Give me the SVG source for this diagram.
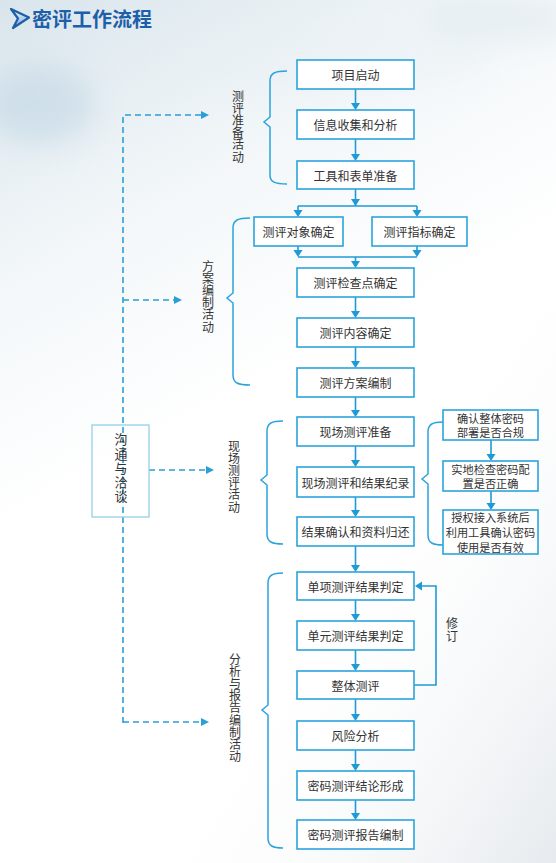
<svg xmlns="http://www.w3.org/2000/svg" width="556" height="863" viewBox="0 0 556 863">
<defs>
  <linearGradient id="bg" x1="0" y1="0" x2="0.35" y2="1">
    <stop offset="0" stop-color="#d9e5ec"/>
    <stop offset="0.3" stop-color="#f3f7f9"/>
    <stop offset="0.55" stop-color="#ffffff"/>
    <stop offset="1" stop-color="#ffffff"/>
  </linearGradient>
  <linearGradient id="br" x1="0" y1="0" x2="1" y2="1">
    <stop offset="0.6" stop-color="#ffffff" stop-opacity="0"/>
    <stop offset="1" stop-color="#e6eaee"/>
  </linearGradient>
  <filter id="blur" x="-50%" y="-50%" width="200%" height="200%"><feGaussianBlur stdDeviation="14"/></filter>
  <linearGradient id="ico" x1="0" y1="0" x2="0" y2="1">
    <stop offset="0" stop-color="#e8f2fa"/>
    <stop offset="1" stop-color="#7fb1dc"/>
  </linearGradient>
  <style>
    .box{fill:#ffffff;stroke:#2ba3dc;stroke-width:1.6}
    .t{font-family:"Noto Sans CJK SC","Noto Sans",sans-serif;font-size:12px;fill:#333333;text-anchor:middle;dominant-baseline:central}
    .s{font-size:11.2px}
    .v{font-family:"Noto Sans CJK SC","Noto Sans",sans-serif;font-size:12px;fill:#333333;writing-mode:vertical-rl;text-anchor:start;letter-spacing:0.2px}
    .ln{stroke:#1e9ad6;stroke-width:1.6;fill:none}
    .hd{fill:#1e9ad6}
    .brace{stroke:#2ba3dc;stroke-width:1.5;fill:none}
    .dash{stroke:#2a9fd6;stroke-width:1.6;fill:none;stroke-dasharray:6 4}
  </style>
</defs>
<rect x="0" y="0" width="556" height="863" fill="url(#bg)"/>
<rect x="0" y="0" width="556" height="863" fill="url(#br)"/>
<g filter="url(#blur)" opacity="0.5">
  <ellipse cx="40" cy="105" rx="55" ry="40" fill="#bcd3e2"/>
  <ellipse cx="330" cy="60" rx="160" ry="30" fill="#e9f0f4"/>
  <ellipse cx="500" cy="20" rx="80" ry="25" fill="#dde7ed"/>
</g>

<g id="title">
  <path d="M11,9 L29,17.5 L13,28 L18,18.5 Z" fill="url(#ico)" stroke="#1d5fa9" stroke-width="2.2" stroke-linejoin="round"/>
  <text x="32" y="18" font-family="'Noto Sans CJK SC','Noto Sans',sans-serif" font-size="20" font-weight="bold" fill="#1d5fa9" dominant-baseline="central">密评工作流程</text>
</g>

<g id="connectors">
  <path class="ln" d="M355.5,89 V104 M355.5,139 V155 M355.5,189 V206 M298,206 H417 M298,206 V211 M417,206 V211 M298,246 V251 M417,246 V251 M298,257 H417 M355.5,257 V262 M355.5,297 V312 M355.5,347 V362 M355.5,397 V411 M355.5,446 V461 M355.5,497 V511 M355.5,546 V566 M355.5,600 V615 M355.5,650 V665 M355.5,699 V715 M355.5,750 V765 M355.5,800 V814"/>
  <g class="hd">
    <polygon points="351,103 360,103 355.5,110"/>
    <polygon points="351,154 360,154 355.5,161"/>
    <polygon points="351,199 360,199 355.5,206"/>
    <polygon points="293.5,210 302.5,210 298,217"/>
    <polygon points="412.5,210 421.5,210 417,217"/>
    <polygon points="293.5,250 302.5,250 298,257"/>
    <polygon points="412.5,250 421.5,250 417,257"/>
    <polygon points="351,261 360,261 355.5,268"/>
    <polygon points="351,311 360,311 355.5,318"/>
    <polygon points="351,361 360,361 355.5,368"/>
    <polygon points="351,410 360,410 355.5,417"/>
    <polygon points="351,460 360,460 355.5,467"/>
    <polygon points="351,510 360,510 355.5,517"/>
    <polygon points="351,565 360,565 355.5,572"/>
    <polygon points="351,614 360,614 355.5,621"/>
    <polygon points="351,664 360,664 355.5,671"/>
    <polygon points="351,714 360,714 355.5,721"/>
    <polygon points="351,764 360,764 355.5,771"/>
    <polygon points="351,813 360,813 355.5,820"/>
    <polygon points="486.5,454 495.5,454 491,461"/>
    <polygon points="486.5,503 495.5,503 491,510"/>
    <polygon points="415,586 422,581.5 422,590.5"/>
  </g>
  <path class="ln" d="M491,440 V455 M491,491 V504"/>
  <path class="ln" d="M414,685 H436 V586 H421"/>
  <path class="dash" d="M123,723 V115 H202 M123,300 H175 M149,470 H207 M123,722 H202"/>
  <g fill="#2a9fd6">
    <polygon points="209,115 201,111 201,119"/>
    <polygon points="182,300 174,296 174,304"/>
    <polygon points="214,470 206,466 206,474"/>
    <polygon points="209,722 201,718 201,726"/>
  </g>
</g>

<g id="braces">
  <path class="brace" d="M287,71 C275,71 270,73 270,81 L270,117 L264,122 L270,127 L270,175 C270,182 275,184 287,184"/>
  <path class="brace" d="M250,218 C238,218 233,220 233,228 L233,293 L227,298 L233,303 L233,375 C233,383 238,385 250,385"/>
  <path class="brace" d="M283,421 C272,421 267,423 267,431 L267,475 L261,480 L267,485 L267,534 C267,542 272,544 283,544"/>
  <path class="brace" d="M443,422 C433,422 428,424 428,432 L428,474 L422,479 L428,484 L428,535 C428,543 433,545 443,545"/>
  <path class="brace" d="M283,573 C273,573 268,575 268,583 L268,705 L262,710 L268,715 L268,838 C268,846 273,848 283,848"/>
</g>

<g id="label-prep"><text class="v" x="238" y="90">测评准备活动</text></g>
<g id="label-plan"><text class="v" x="208" y="260">方案编制活动</text></g>
<g id="label-site"><text class="v" x="234" y="440">现场测评活动</text></g>
<g id="label-report"><text class="v" x="235" y="653">分析与报告编制活动</text></g>
<g id="label-revise"><text class="v" x="452" y="617" style="letter-spacing:1px">修订</text></g>

<g id="n-comm">
  <rect x="92" y="425" width="57" height="92" fill="none" stroke="#8ccbe6" stroke-width="1.2"/>
  <text class="v" x="121" y="433" style="font-size:13px;letter-spacing:1.2px">沟通与洽谈</text>
</g>

<g id="n1"><rect class="box" x="297" y="60" width="117" height="29"/><text class="t" x="355.5" y="74.5">项目启动</text></g>
<g id="n2"><rect class="box" x="297" y="110" width="117" height="29"/><text class="t" x="355.5" y="124.5">信息收集和分析</text></g>
<g id="n3"><rect class="box" x="297" y="161" width="117" height="28"/><text class="t" x="355.5" y="175">工具和表单准备</text></g>
<g id="n4"><rect class="box" x="254" y="217" width="89" height="29"/><text class="t" x="298.5" y="231.5">测评对象确定</text></g>
<g id="n5"><rect class="box" x="372" y="217" width="95" height="29"/><text class="t" x="419.5" y="231.5">测评指标确定</text></g>
<g id="n6"><rect class="box" x="297" y="268" width="117" height="29"/><text class="t" x="355.5" y="282.5">测评检查点确定</text></g>
<g id="n7"><rect class="box" x="297" y="318" width="117" height="29"/><text class="t" x="355.5" y="332.5">测评内容确定</text></g>
<g id="n8"><rect class="box" x="297" y="368" width="117" height="29"/><text class="t" x="355.5" y="382.5">测评方案编制</text></g>
<g id="n9"><rect class="box" x="297" y="417" width="117" height="29"/><text class="t" x="355.5" y="431.5">现场测评准备</text></g>
<g id="n10"><rect class="box" x="297" y="467" width="117" height="30"/><text class="t" x="355.5" y="482">现场测评和结果纪录</text></g>
<g id="n11"><rect class="box" x="297" y="517" width="117" height="29"/><text class="t" x="355.5" y="531.5">结果确认和资料归还</text></g>
<g id="n12"><rect class="box" x="443" y="410" width="95" height="30"/><text class="t s"><tspan x="490.5" y="417.7">确认整体密码</tspan><tspan x="490.5" y="432.3">部署是否合规</tspan></text></g>
<g id="n13"><rect class="box" x="443" y="461" width="95" height="30"/><text class="t s"><tspan x="490.5" y="468.7">实地检查密码配</tspan><tspan x="490.5" y="483.3">置是否正确</tspan></text></g>
<g id="n14"><rect class="box" x="443" y="510" width="95" height="44"/><text class="t s"><tspan x="490.5" y="517.4">授权接入系统后</tspan><tspan x="490.5" y="532">利用工具确认密码</tspan><tspan x="490.5" y="546.6">使用是否有效</tspan></text></g>
<g id="n15"><rect class="box" x="297" y="572" width="117" height="28"/><text class="t" x="355.5" y="586">单项测评结果判定</text></g>
<g id="n16"><rect class="box" x="297" y="621" width="117" height="29"/><text class="t" x="355.5" y="635.5">单元测评结果判定</text></g>
<g id="n17"><rect class="box" x="297" y="671" width="117" height="28"/><text class="t" x="355.5" y="685">整体测评</text></g>
<g id="n18"><rect class="box" x="297" y="721" width="117" height="29"/><text class="t" x="355.5" y="735.5">风险分析</text></g>
<g id="n19"><rect class="box" x="297" y="771" width="117" height="29"/><text class="t" x="355.5" y="785.5">密码测评结论形成</text></g>
<g id="n20"><rect class="box" x="297" y="820" width="117" height="29"/><text class="t" x="355.5" y="834.5">密码测评报告编制</text></g>
</svg>
